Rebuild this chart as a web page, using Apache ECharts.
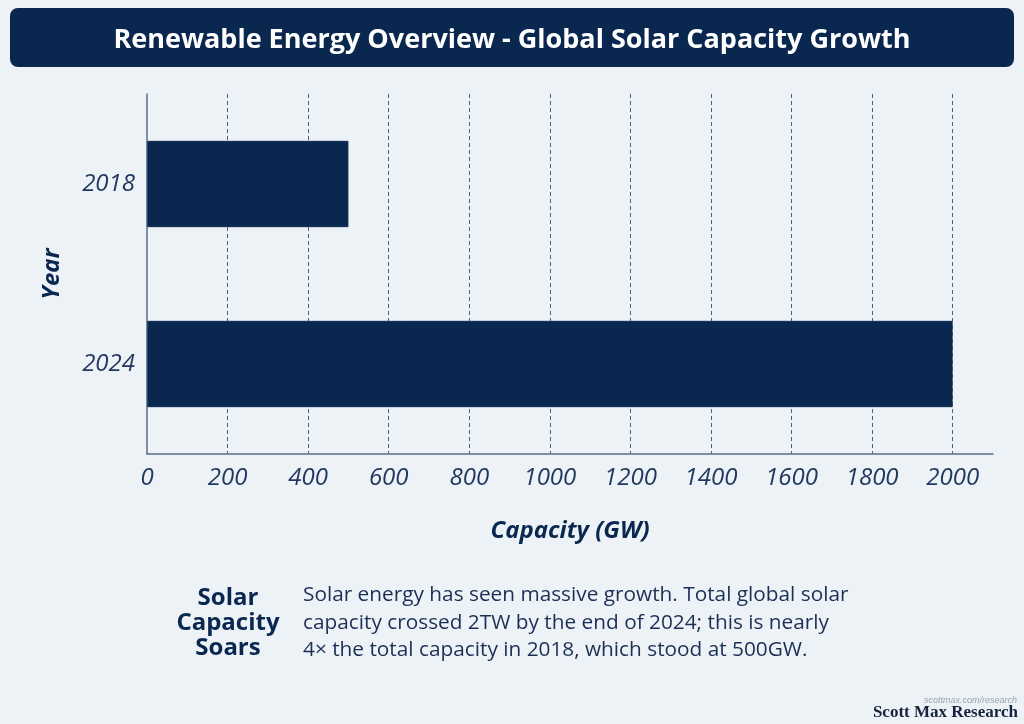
<!DOCTYPE html>
<html>
  <script src="https://cdn.jsdelivr.net/npm/echarts@6/dist/echarts.min.js"></script>
  <head>
    <meta charset="utf-8" />
    <title>Global Solar Capacity Growth</title>
  </head>
  <body style="margin:0;background:#edf2f7;">
    <div id="chart" style="width: 1024px; height: 724px;"></div>
  </body>
  <script>
    var years = ['2018', '2024']
    var capacity = [500, 2000]
    var titleText = 'Renewable Energy Overview - Global Solar Capacity Growth'
    var noteHead = 'Solar\nCapacity\nSoars'
    var noteBody = 'Solar energy has seen massive growth. Total global solar\ncapacity crossed 2TW by the end of 2024; this is nearly\n4\u00d7 the total capacity in 2018, which stood at 500GW.'

    var navy = '#0a2750'
    var font = 'Open Sans'
    var myChart = echarts.init(document.getElementById('chart'))
    var option = {
      backgroundColor: '#edf2f7',
      textStyle: { fontFamily: font },
      grid: { left: 147, right: 31, top: 94, bottom: 270 },
      xAxis: {
        type: 'value',
        min: 0,
        max: 2100,
        interval: 200,
        name: 'Capacity (GW)',
        nameLocation: 'middle',
        nameGap: 65,
        nameTextStyle: { fontSize: 24, fontWeight: 'bold', fontStyle: 'italic', color: navy },
        axisLine: { show: true, lineStyle: { color: '#5b6e8e', width: 1.5 } },
        axisTick: { show: false },
        axisLabel: {
          showMaxLabel: false,
          fontSize: 24,
          fontStyle: 'italic',
          color: '#22395f',
          margin: 12,
          formatter: function (v) { return String(v) }
        },
        splitLine: {
          show: true,
          showMinLine: false,
          showMaxLine: false,
          lineStyle: { type: [4, 3], color: '#4a6088', width: 1 }
        }
      },
      yAxis: {
        type: 'category',
        data: years,
        inverse: true,
        name: 'Year',
        nameLocation: 'middle',
        nameGap: 83,
        nameRotate: 90,
        nameTextStyle: { fontSize: 24, fontWeight: 'bold', fontStyle: 'italic', color: navy },
        axisLine: { show: true, lineStyle: { color: '#5b6e8e', width: 1.5 } },
        axisTick: { show: false },
        axisLabel: { fontSize: 24, fontStyle: 'italic', color: '#22395f', margin: 12 }
      },
      series: [
        {
          type: 'bar',
          data: capacity,
          barWidth: '48%',
          itemStyle: { color: navy, borderColor: '#3b5378', borderWidth: 0.5 }
        }
      ],
      graphic: [
        {
          type: 'rect',
          shape: { x: 10, y: 8, width: 1004, height: 59, r: 8 },
          style: { fill: navy }
        },
        {
          type: 'text',
          x: 512,
          y: 40,
          style: {
            text: titleText,
            fill: '#ffffff',
            font: 'bold 27px ' + font,
            align: 'center',
            verticalAlign: 'middle'
          }
        },
        {
          type: 'text',
          x: 228,
          y: 623,
          style: {
            text: noteHead,
            fill: navy,
            font: 'bold 24px ' + font,
            lineHeight: 25,
            align: 'center',
            verticalAlign: 'middle'
          }
        },
        {
          type: 'text',
          x: 303,
          y: 623,
          style: {
            text: noteBody,
            fill: '#1b2f55',
            font: '20.8px ' + font,
            lineHeight: 27.5,
            align: 'left',
            verticalAlign: 'middle'
          }
        },
        {
          type: 'text',
          x: 1017,
          y: 700,
          style: {
            text: 'scottmax.com/research',
            fill: '#9aa3ae',
            font: 'italic 9px Liberation Sans',
            align: 'right',
            verticalAlign: 'middle'
          }
        },
        {
          type: 'text',
          x: 1018,
          y: 713,
          style: {
            text: 'Scott Max Research',
            fill: '#16233d',
            font: 'bold 17px Liberation Serif',
            align: 'right',
            verticalAlign: 'middle'
          }
        }
      ]
    }
    option && myChart.setOption(option)
  </script>
</html>
